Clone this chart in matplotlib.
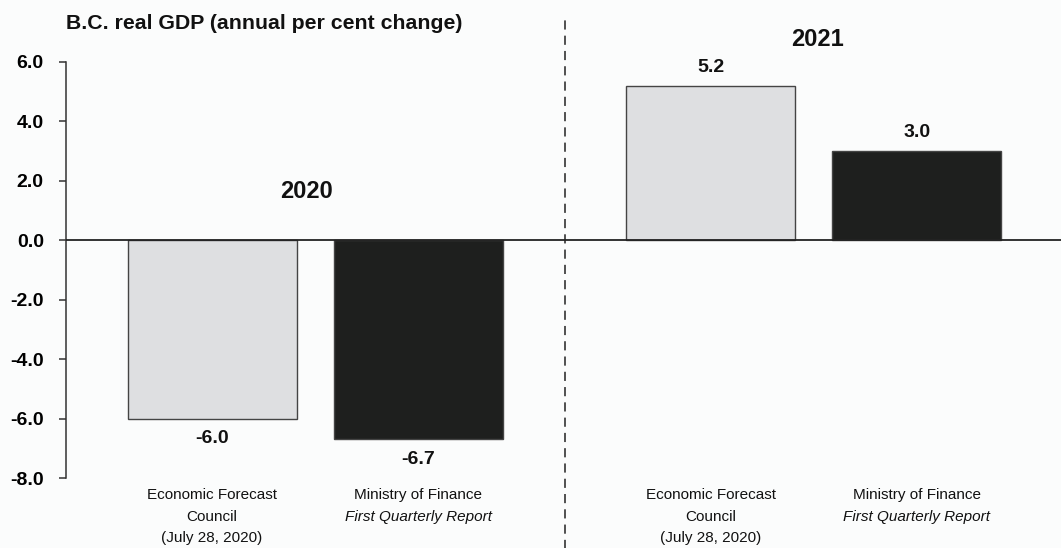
import numpy as np
from matplotlib import pyplot as plt
from matplotlib import transforms

plt.rcParams['font.family'] = ['Liberation Sans', 'DejaVu Sans']

years = ['2020', '2021']
sources = ['Economic Forecast Council', 'Ministry of Finance First Quarterly Report']
gdp_2020 = [-6.0, -6.7]
gdp_2021 = [5.2, 3.0]
y_ticks = [6.0, 4.0, 2.0, 0.0, -2.0, -4.0, -6.0, -8.0]

# label lines under each bar: (text, style)
source_lines = [
    [('Economic Forecast', 'normal'), ('Council', 'normal'), ('(July 28, 2020)', 'normal')],
    [('Ministry of Finance', 'normal'), ('First Quarterly Report', 'italic')],
]

light = '#dedfe1'
dark = '#1e1f1e'
bg = '#fbfcfc'

fig = plt.figure(figsize=(10.61, 5.48), dpi=100, facecolor=bg)
ax = fig.add_axes([0.0622, 0.1277, 0.9378, 0.7592], facecolor=bg)

x_2020 = np.array([0.0, 1.0])
x_2021 = np.array([2.42, 3.42])
width = 0.82
colors = [light, dark]

ax.bar(x_2020, gdp_2020, width=width, color=colors, edgecolor='#444444', linewidth=1)
ax.bar(x_2021, gdp_2021, width=width, color=colors, edgecolor='#444444', linewidth=1)

# value labels
for xs, vals in [(x_2020, gdp_2020), (x_2021, gdp_2021)]:
    for x, v in zip(xs, vals):
        off = 0.62 if v > 0 else -0.68
        ax.text(x, v + off, f'{v:.1f}', ha='center', va='center',
                fontsize=14, fontweight='bold', color='#111111')

# year headings
ax.text(0.46, 1.65, years[0], ha='center', va='center', fontsize=17,
        fontweight='bold', color='#111111')
ax.text(2.94, 6.74, years[1], ha='center', va='center', fontsize=17,
        fontweight='bold', color='#111111', clip_on=False)

# source labels under the axis
trans = transforms.blended_transform_factory(ax.transData, ax.transAxes)
line_y = [-0.041, -0.093, -0.144]
for xs in (x_2020, x_2021):
    for x, lines in zip(xs, source_lines):
        for (txt, style), y in zip(lines, line_y):
            ax.text(x, y, txt, transform=trans, ha='center', va='center',
                    fontsize=11, fontstyle=style, color='#111111', clip_on=False)

# zero line and divider between years
ax.axhline(0, color='#222222', linewidth=1.3, zorder=3)
ax.plot([1.714, 1.714], [-0.17, 1.10], transform=trans, color='#222222',
        linewidth=1.1, linestyle=(0, (6, 4)), clip_on=False)

ax.set_xlim(-0.709, 4.121)
ax.set_ylim(-8, 6)
ax.set_yticks(y_ticks)
ax.set_yticklabels([f'{t:.1f}' for t in y_ticks], fontsize=14, fontweight='bold')
ax.set_xticks([])
ax.tick_params(axis='y', length=5, width=1.1, pad=11, color='#333333')
for s in ['top', 'right', 'bottom']:
    ax.spines[s].set_visible(False)
ax.spines['left'].set_color('#333333')
ax.spines['left'].set_linewidth(1.1)

fig.text(0.062, 0.958, 'B.C. real GDP (annual per cent change)', ha='left', va='center',
         fontsize=15.3, fontweight='bold', color='#111111')

fig.savefig('out.png', dpi=100, facecolor=bg)
